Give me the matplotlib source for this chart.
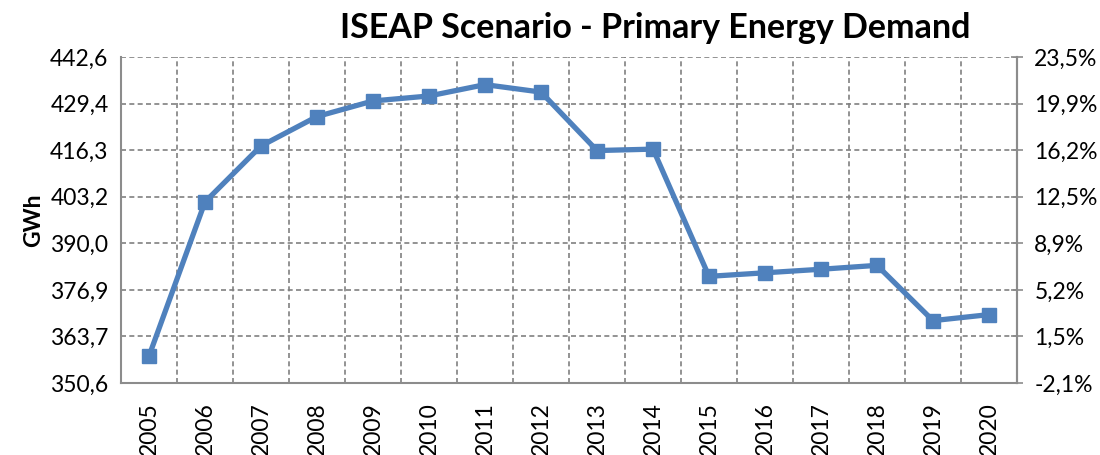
import matplotlib
matplotlib.use("Agg")
import matplotlib.pyplot as plt
import numpy as np

years = ["2005", "2006", "2007", "2008", "2009", "2010", "2011", "2012",
         "2013", "2014", "2015", "2016", "2017", "2018", "2019", "2020"]
demand_gwh = [358.2, 401.7, 417.5, 425.8, 430.2, 431.6, 434.8, 432.7,
              416.2, 416.6, 380.7, 381.7, 382.7, 383.8, 368.2, 369.9]
left_ticks = [350.6, 363.7, 376.9, 390.0, 403.2, 416.3, 429.4, 442.6]
left_labels = ["350,6", "363,7", "376,9", "390,0", "403,2", "416,3", "429,4", "442,6"]
right_ticks = [-2.1, 1.5, 5.2, 8.9, 12.5, 16.2, 19.9, 23.5]
right_labels = ["-2,1%", "1,5%", "5,2%", "8,9%", "12,5%", "16,2%", "19,9%", "23,5%"]

plt.rcParams['font.family'] = ['Lato', 'DejaVu Sans']

fig = plt.figure(figsize=(11, 4.55), dpi=100)
ax = fig.add_axes([121/1100, 1-383/455, (1017-121)/1100, (383-57)/455])

x = np.arange(len(years))
ax.plot(x, demand_gwh, color="#4F81BD", lw=3.8, marker="s", markersize=10,
        markerfacecolor="#4F81BD", markeredgecolor="#4F81BD", zorder=3)

ax.set_xlim(-0.5, len(years) - 0.5)
ax.set_ylim(left_ticks[0], left_ticks[-1])
ax.set_yticks(np.linspace(left_ticks[0], left_ticks[-1], len(left_ticks)))
ax.set_yticklabels(left_labels, fontsize=16.5)
ax.set_xticks(x)
ax.set_xticklabels(years, rotation=90, fontsize=16.5)
ax.tick_params(axis='x', length=0, pad=14)
ax.tick_params(axis='y', length=0, pad=9)

# Category boundary gridlines
ax.set_xticks(np.arange(-0.5, len(years) + 0.5, 1), minor=True)
ax.grid(which='minor', axis='x', color='#808080', linestyle=(0, (3, 2)), lw=1.2)
ax.grid(which='major', axis='y', color='#808080', linestyle=(0, (3, 2)), lw=1.2)
ax.tick_params(axis='x', which='minor', length=0)
ax.set_axisbelow(True)

for s in ['left', 'bottom', 'right']:
    ax.spines[s].set_color('#8C8C8C')
    ax.spines[s].set_linewidth(1.5)
ax.spines['top'].set_visible(False)

ax.set_ylabel("GWh", fontsize=16.5, fontweight='bold', labelpad=4)

ax2 = ax.twinx()
ax2.set_ylim(right_ticks[0], right_ticks[-1])
ax2.set_yticks(np.linspace(right_ticks[0], right_ticks[-1], len(right_ticks)))
ax2.set_yticklabels(right_labels, fontsize=16.5)
ax2.tick_params(axis='y', direction='inout', length=9, width=1.2, color='#8C8C8C', pad=8)
for s in ['left', 'bottom', 'top']:
    ax2.spines[s].set_visible(False)
ax2.spines['right'].set_color('#8C8C8C')
ax2.spines['right'].set_linewidth(1.5)

fig.text(655/1100, 1-28/455, "ISEAP Scenario - Primary Energy Demand",
         fontsize=24.5, fontweight='bold', ha='center', va='center')

fig.savefig("out.png", dpi=100)
